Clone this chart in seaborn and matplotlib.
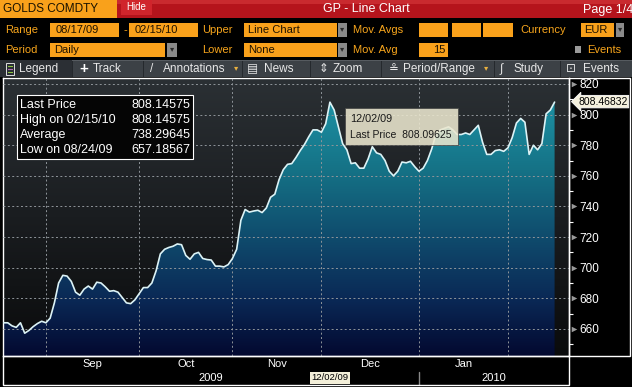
import numpy as np
import pandas as pd
import matplotlib
matplotlib.use("Agg")
import matplotlib.pyplot as plt
import matplotlib.transforms as mtransforms
from matplotlib.patches import Rectangle, Polygon
from matplotlib.colors import LinearSegmentedColormap
import seaborn as sns

sns.set_theme(style="dark")
plt.rcParams["font.family"] = ["Liberation Sans", "DejaVu Sans"]

# daily (weekday) gold price in EUR, 08/17/09 - 02/15/10
start_date = "2009-08-17"
end_date = "2010-02-15"
price = [
    664, 664, 662, 661, 664, 657.2, 659, 661.5, 663.5, 665, 664,
    667, 677, 690, 695, 694.5, 691, 684, 682, 686, 688,
    686, 690.5, 690, 687.5, 684.6, 685, 684, 680.5, 677, 676.5,
    679, 683, 687, 687, 690, 698, 709, 712, 713.2, 714,
    715.5, 715, 708, 705.5, 709, 710, 706, 705.3, 705, 701,
    701, 700.5, 702, 706, 712, 731, 738, 736.3, 737, 737.5,
    736, 739, 746, 748, 757.5, 764, 767.5, 768, 772, 776.5,
    780.5, 785.5, 790, 790, 788.5, 794, 808.1, 803, 792, 781,
    777, 768, 768.5, 765, 765, 771, 779, 775, 774, 770,
    763, 760, 763, 769, 768.5, 769.5, 766, 763, 765, 770,
    777.5, 787, 790, 791, 792, 790, 787, 787, 788, 787,
    790, 793, 782, 774, 774, 776.5, 777, 776, 778.3, 785,
    794.5, 797.5, 795, 774, 780, 777, 781, 800.5, 803, 808.15,
]
y_ticks = [660, 680, 700, 720, 740, 760, 780, 800, 820]
y_minor = [650, 670, 690, 710, 730, 750, 770, 790, 810]
month_names = ["Sep", "Oct", "Nov", "Dec", "Jan"]
year_names = ["2009", "2010"]
stat_names = ["Last Price", "High on 02/15/10", "Average", "Low on 08/24/09"]
stat_values = ["808.14575", "808.14575", "738.29645", "657.18567"]
tip_date = "12/02/09"
tip_price = "808.09625"
tip_index = 77
last_tag = 808.46832

dates = pd.bdate_range(start_date, end_date)
df = pd.DataFrame({"date": dates, "price": price})
df["pos"] = np.arange(len(df))

W, H = 632, 387
ORANGE = "#f9a11b"
AMBER = "#f7a51c"

fig = plt.figure(figsize=(W / 100, H / 100), dpi=100, facecolor="black")


def box(x0, y0, x1, y1, fc, ec="none", lw=0, alpha=1.0, z=1):
    fig.add_artist(Rectangle((x0 / W, 1 - y1 / H), (x1 - x0) / W, (y1 - y0) / H,
                             transform=fig.transFigure, fc=fc, ec=ec, lw=lw,
                             alpha=alpha, zorder=z))


def label(x, y, s, color="white", size=8, ha="left", **kw):
    fig.text(x / W, 1 - y / H, s, color=color, fontsize=size, ha=ha, va="center", **kw)


def dropdown(x0, y0, x1, y1):
    box(x0, y0, x1, y1, "#8a8a8a")
    label((x0 + x1) / 2, (y0 + y1) / 2, "▾", color="#2a2a2a", size=6, ha="center")


# ---- main chart ----
ax = fig.add_axes([3 / W, 1 - 356 / H, 566 / W, 278 / H])
ax.set_facecolor("black")
xlim = (-0.12, 133.4)
ylim = (642.3, 823.9)
grad = np.linspace(0, 1, 256).reshape(-1, 1)

bg_cmap = LinearSegmentedColormap.from_list("bg", ["#0a0b0c", "#1a1d20", "#2b3034"])
ax.imshow(grad, extent=[*xlim, *ylim], origin="lower", aspect="auto", cmap=bg_cmap, zorder=0)

fill_cmap = LinearSegmentedColormap.from_list(
    "fill", [(0, "#030930"), (0.2, "#0a2855"), (0.38, "#0e4468"),
             (0.67, "#157286"), (0.9, "#1c8ea1"), (1, "#1f94a3")])
fill_img = ax.imshow(grad, extent=[*xlim, *ylim], origin="lower", aspect="auto",
                     cmap=fill_cmap, zorder=1)
verts = [(df["pos"].iloc[0], ylim[0])] + list(zip(df["pos"], df["price"])) + [(df["pos"].iloc[-1], ylim[0])]
area = Polygon(verts, closed=True, fc="none", ec="none", transform=ax.transData)
ax.add_patch(area)
fill_img.set_clip_path(area)

sns.lineplot(data=df, x="pos", y="price", ax=ax, color="#dcf3f6", lw=1.2, zorder=4)

ax.set_xlim(*xlim)
ax.set_ylim(*ylim)
ax.set_xlabel("")
ax.set_ylabel("")

# month boundaries (tick sits on the last weekday of the previous month)
starts = df.index[df["date"].dt.month.diff().fillna(0) != 0].to_numpy()
bounds = starts - 1
mids = (bounds[:-1] + bounds[1:]) / 2
ax.set_xticks(bounds)
ax.set_xticklabels([])
ax.set_xticks(mids, minor=True)
ax.set_xticklabels(month_names, minor=True)
ax.tick_params(axis="x", which="major", length=4, width=0.8, color="white", direction="out")
ax.tick_params(axis="x", which="minor", length=0, pad=2.5, labelsize=8, labelcolor="white")

ax.yaxis.tick_right()
ax.set_yticks(y_ticks)
ax.set_yticks(y_minor, minor=True)
ax.tick_params(axis="y", which="major", length=0, pad=7.5, labelsize=8.5, labelcolor="white")
ax.tick_params(axis="y", which="minor", length=3, width=0.8, color="white", direction="out")

ax.set_axisbelow(False)
ax.grid(True, which="major", color="#8f959a", ls=(0, (2, 2.5)), lw=0.7)
ax.grid(False, which="minor")
for sp in ax.spines.values():
    sp.set_color("white")
    sp.set_linewidth(1)

blend = mtransforms.blended_transform_factory(ax.transAxes, ax.transData)
ax.scatter([1.008] * len(y_ticks), y_ticks, transform=blend, marker=">", s=16,
           color="#9a9a9a", clip_on=False, zorder=6, linewidths=0)
ax.text(1.016, last_tag, f"{last_tag:.5f}", transform=blend, va="center", ha="left",
        fontsize=7.5, color="black",
        bbox=dict(boxstyle="larrow,pad=0.12", fc="#f5f1dd", ec="white", lw=0.6))

# years and the selected-date tag under the axis
xblend = mtransforms.blended_transform_factory(ax.transData, ax.transAxes)
year_split = bounds[4]
ax.text((xlim[0] + year_split) / 2, -0.079, year_names[0], transform=xblend,
        ha="center", va="center", fontsize=8, color="white")
ax.text((year_split + xlim[1]) / 2, -0.079, year_names[1], transform=xblend,
        ha="center", va="center", fontsize=8, color="white")
ax.plot([year_split, year_split], [-0.058, -0.104], transform=xblend, color="#888888",
        lw=1, clip_on=False)
ax.text(tip_index, -0.079, tip_date, transform=xblend, ha="center", va="center",
        fontsize=6.8, color="black",
        bbox=dict(boxstyle="square,pad=0.12", fc="#f3efd9", ec="none"))

# frames around the axis panels
box(569, 78, 630, 356, "none", ec="white", lw=1)
box(3, 356, 569, 385, "none", ec="white", lw=1)

# statistics legend
box(17, 95, 193, 159, "#050505", ec="white", lw=0.8)
for i, (n, v) in enumerate(zip(stat_names, stat_values)):
    label(20, 105 + 15 * i, n, size=9)
    label(190, 105 + 15 * i, v, size=9, ha="right")

# hover tooltip
box(345, 108, 458, 145, "#ebe7cf", ec="#444444", lw=0.6, alpha=0.88, z=2)
label(350, 119, tip_date, color="#1a1a1a", size=7.8)
label(350, 135, f"Last Price  {tip_price}", color="#1a1a1a", size=7.5)

# ---- header rows ----
box(0, 0, 117, 18, ORANGE)
label(3, 9.5, "GOLDS COMDTY", color="#1a1200", size=8.5)
box(117, 0, 632, 18, "#b5141c")
box(117, 0, 632, 4, "#c92a2f")
box(121, 0, 152, 15, "#d0252c")
label(136, 7, "Hide", size=7, ha="center")
label(366, 9.5, "GP - Line Chart", size=9, ha="center")
label(583, 9.5, "Page 1/4", size=9)

y2 = 30
label(5, y2, "Range", color=AMBER)
box(50, 23, 119, 37, ORANGE)
label(56, y2, "08/17/09", color="#1e1200")
label(123, y2, "-", color=AMBER)
box(129, 23, 198, 37, ORANGE)
label(135, y2, "02/15/10", color="#1e1200")
label(202, y2, "Upper", color=AMBER)
box(244, 23, 337, 37, ORANGE)
label(248, y2, "Line Chart", color="#1e1200")
dropdown(338, 23, 347, 37)
label(353, y2, "Mov. Avgs", color=AMBER)
for bx in [(419, 448), (452, 481), (483, 513)]:
    box(bx[0], 23, bx[1], 37, ORANGE)
label(520, y2, "Currency", color=AMBER)
box(581, 23, 614, 37, ORANGE)
label(584, y2, "EUR", color="#1e1200")
dropdown(616, 23, 624, 37)

y3 = 50
label(5, y3, "Period", color=AMBER)
box(50, 43, 165, 57, ORANGE)
label(54, y3, "Daily", color="#1e1200")
dropdown(167, 43, 177, 57)
label(202, y3, "Lower", color=AMBER)
box(244, 43, 337, 57, ORANGE)
label(248, y3, "None", color="#1e1200")
dropdown(338, 43, 347, 57)
label(353, y3, "Mov. Avg", color=AMBER)
box(419, 43, 448, 57, ORANGE)
label(445, y3, "15", color="#1e1200", ha="right")
box(575, 46, 581, 53, "#9a9a9a")
label(587, y3, "Events", color=AMBER)

# ---- toolbar ----
box(0, 60, 632, 77, "#3c4146")
box(0, 60, 632, 61, "#565b60")
box(0, 60, 72, 77, "#2b2f34")
for sx in [72, 143, 242, 310, 381, 494, 560]:
    box(sx, 61, sx + 1, 77, "#25292d")
yt = 69
box(6, 63, 14, 75, "none", ec="#dddddd", lw=0.7)
box(8, 65.5, 12.5, 66.5, "#8bc53f")
box(8, 68.5, 12.5, 69.5, "#b06ab3")
box(8, 71.5, 12.5, 72.5, "#8bc53f")
label(19, yt, "Legend", color="#e8e8e8", size=8.5)
label(79, yt, "+", color="white", size=11, weight="bold")
label(93, yt, "Track", color="#e8e8e8", size=8.5)
label(150, yt, "/", color="#e8e8e8", size=8.5)
label(163, yt, "Annotations", color="#e8e8e8", size=8.5)
label(234, yt, "▾", color="#e8b040", size=6)
label(247, yt, "▤", color="#e8e8e8", size=8.5)
label(264, yt, "News", color="#e8e8e8", size=8.5)
label(319, yt, "⇕", color="#e8e8e8", size=8.5)
label(333, yt, "Zoom", color="#e8e8e8", size=8.5)
label(389, yt, "≗", color="#e8e8e8", size=8.5)
label(403, yt, "Period/Range", color="#e8e8e8", size=8.5)
label(484, yt, "▾", color="#e8b040", size=6)
label(500, yt, "∫", color="#e8e8e8", size=8.5)
label(514, yt, "Study", color="#e8e8e8", size=8.5)
label(566, yt, "⊡", color="#e8e8e8", size=8.5)
label(583, yt, "Events", color="#e8e8e8", size=8.5)

fig.savefig("out.png", dpi=100, facecolor="black")
